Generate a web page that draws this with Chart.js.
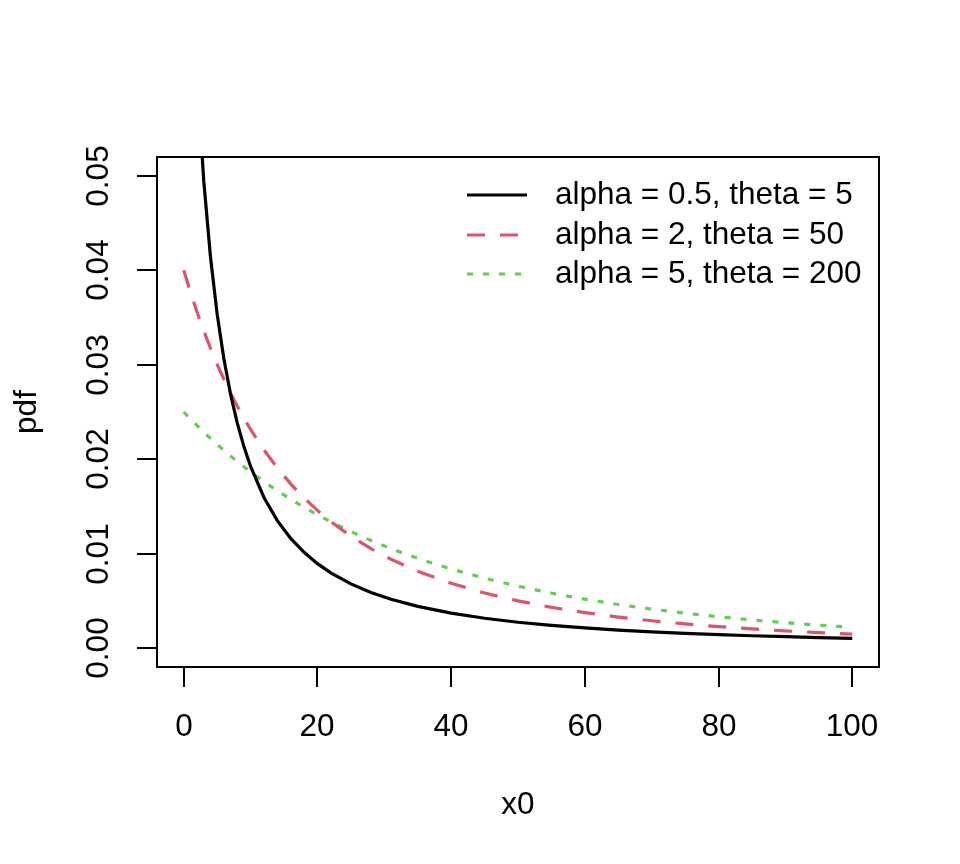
<!DOCTYPE html>
<html>
<head>
<meta charset="utf-8">
<script src="https://cdn.jsdelivr.net/npm/chart.js@4.4.1/dist/chart.umd.min.js"></script>
<style>
html,body{margin:0;padding:0;background:#fff;}
#wrap{width:960px;height:864px;}
</style>
</head>
<body>
<div id="wrap"><canvas id="c" width="960" height="864"></canvas></div>
<script>
// ---- data ----
const x0 = [0,1,2,3,4,5,6,7,8,9,10,12,14,16,18,20,22,25,28,31,35,40,45,50,55,60,65,70,75,80,85,90,95,100];
const pdfA = [0.1000,0.07607,0.06037,0.04941,0.04141,0.03536,0.03064,0.02690,0.02385,0.02134,0.01924,0.01595,0.01350,0.01162,0.01014,0.008944,0.007969,0.006804,0.005898,0.005176,0.004419,0.003704,0.003162,0.002741,0.002406,0.002133,0.001909,0.001721,0.001562,0.001427,0.001309,0.001207,0.001118,0.001039];
const pdfB = [0.04000,0.03769,0.03556,0.03358,0.03175,0.03005,0.02847,0.02700,0.02563,0.02435,0.02315,0.02098,0.01907,0.01739,0.01590,0.01458,0.01340,0.01185,0.01054,0.009408,0.008142,0.006859,0.005832,0.005000,0.004319,0.003757,0.003288,0.002894,0.002560,0.002276,0.002032,0.001822,0.001640,0.001481];
const pdfC = [0.02500,0.02426,0.02355,0.02286,0.02220,0.02156,0.02094,0.02034,0.01976,0.01920,0.01866,0.01762,0.01666,0.01575,0.01491,0.01411,0.01337,0.01233,0.01139,0.01053,0.009500,0.008372,0.007398,0.006554,0.005819,0.005180,0.004620,0.004130,0.003699,0.003320,0.002986,0.002690,0.002428,0.002195];
const seriesLabels = ["alpha = 0.5, theta = 5","alpha = 2, theta = 50","alpha = 5, theta = 200"];
const xTicks = [0,20,40,60,80,100];
const yTicks = [0.00,0.01,0.02,0.03,0.04,0.05];
const yTickLabels = ["0.00","0.01","0.02","0.03","0.04","0.05"];
const xTitle = "x0";
const yTitle = "pdf";

const FONT = '31.5px "Liberation Sans", Arial, sans-serif';
const colors = ["#000000","#DF536B","#61D04F"];
const dashes = [[],[18,15],[6,10]];

function pts(ys){ return x0.map((x,i)=>({x:x,y:ys[i]})); }

const rAxes = {
  id:'rAxes',
  beforeDraw(chart){
    const ctx=chart.ctx; ctx.save(); ctx.fillStyle='#fff'; ctx.fillRect(0,0,chart.width,chart.height); ctx.restore();
  },
  afterDraw(chart){
    const ctx=chart.ctx, a=chart.chartArea, xs=chart.scales.x, ys=chart.scales.y;
    ctx.save();
    ctx.strokeStyle='#000'; ctx.lineWidth=2; ctx.setLineDash([]);
    ctx.strokeRect(a.left,a.top,a.right-a.left,a.bottom-a.top);
    ctx.fillStyle='#000'; ctx.font=FONT;
    // x ticks
    ctx.textAlign='center'; ctx.textBaseline='middle';
    xTicks.forEach(v=>{
      const px=Math.round(xs.getPixelForValue(v));
      ctx.beginPath(); ctx.moveTo(px,a.bottom); ctx.lineTo(px,a.bottom+20); ctx.stroke();
      ctx.fillText(String(v),px,a.bottom+60);
    });
    // y ticks
    yTicks.forEach((v,i)=>{
      const py=Math.round(ys.getPixelForValue(v));
      ctx.beginPath(); ctx.moveTo(a.left,py); ctx.lineTo(a.left-20,py); ctx.stroke();
      ctx.save(); ctx.translate(a.left-58,py); ctx.rotate(-Math.PI/2);
      ctx.fillText(yTickLabels[i],0,0); ctx.restore();
    });
    // titles
    ctx.fillText(xTitle,(a.left+a.right)/2,a.bottom+138);
    ctx.save(); ctx.translate(27,(a.top+a.bottom)/2); ctx.rotate(-Math.PI/2);
    ctx.fillText(yTitle,0,0); ctx.restore();
    // legend
    const rows=[195,235,274];
    ctx.textAlign='left';
    seriesLabels.forEach((lab,i)=>{
      ctx.strokeStyle=colors[i]; ctx.lineWidth=3.2; ctx.setLineDash(dashes[i]); ctx.lineCap='butt';
      ctx.beginPath(); ctx.moveTo(467,rows[i]); ctx.lineTo(527,rows[i]); ctx.stroke();
      ctx.setLineDash([]);
      ctx.fillStyle='#000'; ctx.fillText(lab,555,rows[i]);
    });
    ctx.restore();
  }
};

new Chart(document.getElementById('c'),{
  type:'line',
  data:{datasets:[
    {label:seriesLabels[0],data:pts(pdfA),borderColor:colors[0],borderWidth:3.2,borderDash:dashes[0],pointRadius:0,tension:0,fill:false},
    {label:seriesLabels[1],data:pts(pdfB),borderColor:colors[1],borderWidth:3.2,borderDash:dashes[1],pointRadius:0,tension:0,fill:false},
    {label:seriesLabels[2],data:pts(pdfC),borderColor:colors[2],borderWidth:3.2,borderDash:dashes[2],pointRadius:0,tension:0,fill:false}
  ]},
  options:{
    responsive:false, animation:false, devicePixelRatio:1,
    layout:{padding:{left:157,top:157,right:81,bottom:197}},
    plugins:{legend:{display:false},tooltip:{enabled:false}},
    scales:{
      x:{type:'linear',min:-4,max:104,display:false},
      y:{type:'linear',min:-0.002,max:0.052,display:false}
    }
  },
  plugins:[rAxes]
});
</script>
</body>
</html>
